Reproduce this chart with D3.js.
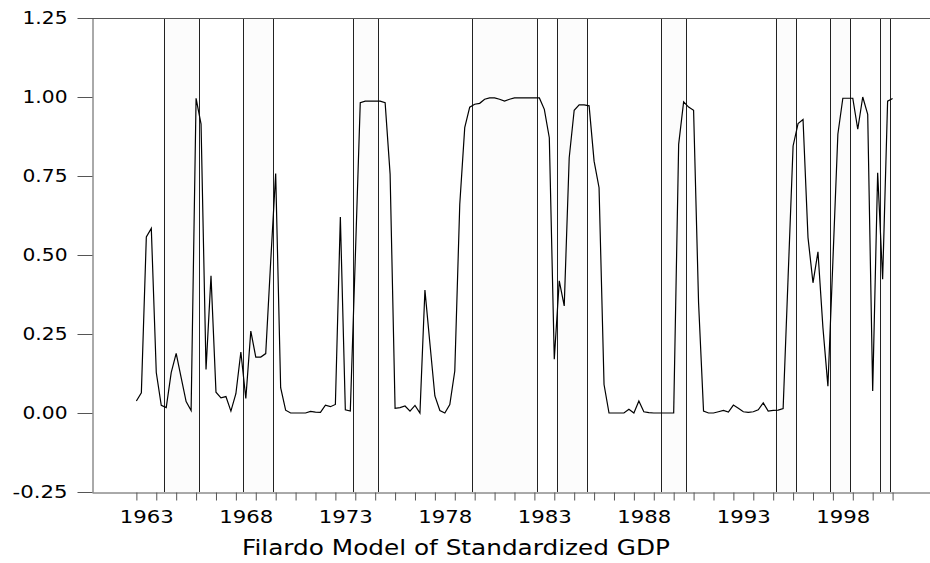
<!DOCTYPE html>
<html lang="en">
<head>
    <meta charset="UTF-8">
    <title>Filardo Model of Standardized GDP</title>
    <style>
        body { margin: 0; background: #fff; }
        svg { display: block; }
    </style>
</head>
<body>
<script src="https://d3js.org/d3.v7.min.js"></script>
<div id="chart"></div>
<script>

const width = 930;
const height = 563;

// quarterly probabilities, first point sits at 1963.0
const firstYear = 1963;
const prob = [
    0.038, 0.064, 0.557, 0.584, 0.128, 0.024, 0.017, 0.128, 0.189, 0.112,
    0.036, 0.008, 0.996, 0.914, 0.138, 0.434, 0.066, 0.048, 0.052, 0.006,
    0.061, 0.193, 0.046, 0.259, 0.177, 0.177, 0.188, 0.48, 0.758, 0.08,
    0.009, 0.0, 0.0, 0.0, 0.0, 0.005, 0.003, 0.002, 0.025, 0.02,
    0.027, 0.62, 0.01, 0.006, 0.49, 0.982, 0.987, 0.987, 0.987, 0.987,
    0.982, 0.756, 0.015, 0.017, 0.022, 0.006, 0.024, 0.0, 0.389, 0.22,
    0.054, 0.008, 0.0, 0.027, 0.133, 0.66, 0.903, 0.968, 0.977, 0.98,
    0.993, 0.997, 0.997, 0.993, 0.987, 0.993, 0.997, 0.997, 0.997, 0.997,
    0.997, 0.997, 0.961, 0.871, 0.17, 0.418, 0.339, 0.808, 0.958, 0.975,
    0.975, 0.972, 0.797, 0.713, 0.09, 0.0, 0.0, 0.0, 0.0, 0.012,
    0.0, 0.038, 0.004, 0.001, 0.0, 0.0, 0.0, 0.0, 0.0, 0.85,
    0.985, 0.968, 0.958, 0.35, 0.006, 0.0, 0.0, 0.004, 0.008, 0.003,
    0.025, 0.015, 0.004, 0.002, 0.004, 0.01, 0.032, 0.006, 0.008, 0.009,
    0.014, 0.43, 0.845, 0.916, 0.929, 0.555, 0.412, 0.51, 0.27, 0.085,
    0.48, 0.882, 0.996, 0.996, 0.996, 0.898, 1.0, 0.945, 0.07, 0.76,
    0.423, 0.987, 0.995
];

// shaded periods, in fractional years
const shadeStart = [1964.375, 1968.375, 1973.875, 1979.875, 1984.125, 1989.375, 1995.125, 1997.875, 2000.375];
const shadeEnd   = [1966.125, 1969.875, 1975.125, 1983.125, 1985.625, 1990.625, 1996.125, 1998.875, 2000.875];

const yTicks = [-0.25, 0, 0.25, 0.5, 0.75, 1.0, 1.25];
const yearTicks = d3.range(1963, 2002);
const yearLabels = [1963, 1968, 1973, 1978, 1983, 1988, 1993, 1998];
const title = "Filardo Model of Standardized GDP";

const svg = d3.select("#chart").append("svg")
    .attr("width", width)
    .attr("height", height)
    .style("font-family", "'DejaVu Sans', sans-serif");

const x = d3.scaleLinear().domain([1960.77, 2002.88]).range([92, 930]);
const y = d3.scaleLinear().domain([-0.25, 1.25]).range([492, 18]);

const crisp = v => Math.round(v) + 0.5;

// shaded bands
const bands = shadeStart.map((s, i) => ({ s: s, e: shadeEnd[i] }));
svg.append("g").selectAll("rect")
    .data(bands)
    .enter()
    .append("rect")
    .attr("x", d => x(d.s))
    .attr("width", d => x(d.e) - x(d.s))
    .attr("y", y(1.25))
    .attr("height", y(-0.25) - y(1.25))
    .attr("fill", "#fcfcfc");

const edges = bands.flatMap(d => [d.s, d.e]);
svg.append("g").selectAll("line")
    .data(edges)
    .enter()
    .append("line")
    .attr("x1", d => crisp(x(d)))
    .attr("x2", d => crisp(x(d)))
    .attr("y1", y(1.25))
    .attr("y2", y(-0.25))
    .attr("stroke", "#222")
    .attr("stroke-width", 1);

// top border
svg.append("line")
    .attr("x1", x.range()[0]).attr("x2", x.range()[1])
    .attr("y1", crisp(y(1.25))).attr("y2", crisp(y(1.25)))
    .attr("stroke", "#555");

// left axis
const yAxis = svg.append("g")
    .attr("transform", "translate(" + crisp(x.range()[0]) + ",0)")
    .call(d3.axisLeft(y)
        .tickValues(yTicks)
        .tickSize(15)
        .tickSizeOuter(0)
        .tickPadding(10)
        .tickFormat(d => d.toFixed(2)));
yAxis.attr("color", "#555");
yAxis.selectAll("text")
    .attr("fill", "#000")
    .attr("font-size", 17)
    .attr("font-family", "'DejaVu Sans', sans-serif")
    .attr("textLength", d => d < 0 ? 55 : 45)
    .attr("lengthAdjust", "spacingAndGlyphs");

// bottom axis: yearly ticks
const xAxis = svg.append("g")
    .attr("transform", "translate(0," + crisp(y(-0.25)) + ")")
    .call(d3.axisBottom(x)
        .tickValues(yearTicks)
        .tickSize(8)
        .tickSizeOuter(0)
        .tickFormat(""));
xAxis.attr("color", "#555");

// year labels centred in the year
const xLabels = svg.append("g")
    .attr("transform", "translate(0," + crisp(y(-0.25)) + ")")
    .call(d3.axisBottom(x)
        .tickValues(yearLabels.map(d => d + 0.5))
        .tickSize(0)
        .tickPadding(18)
        .tickFormat(d => String(Math.floor(d))));
xLabels.select(".domain").remove();
xLabels.selectAll("text")
    .attr("fill", "#000")
    .attr("font-size", 17)
    .attr("font-family", "'DejaVu Sans', sans-serif")
    .attr("textLength", 54)
    .attr("lengthAdjust", "spacingAndGlyphs");

// the series
const line = d3.line()
    .x((d, i) => x(firstYear + i / 4))
    .y(d => y(d));

svg.append("path")
    .datum(prob)
    .attr("d", line)
    .attr("fill", "none")
    .attr("stroke", "#000")
    .attr("stroke-width", 1.2)
    .attr("stroke-linejoin", "miter");

// caption under the axis
svg.append("text")
    .attr("x", 456)
    .attr("y", 555)
    .attr("text-anchor", "middle")
    .attr("font-size", 21)
    .attr("textLength", 428)
    .attr("lengthAdjust", "spacingAndGlyphs")
    .text(title);

</script>
</body>
</html>
